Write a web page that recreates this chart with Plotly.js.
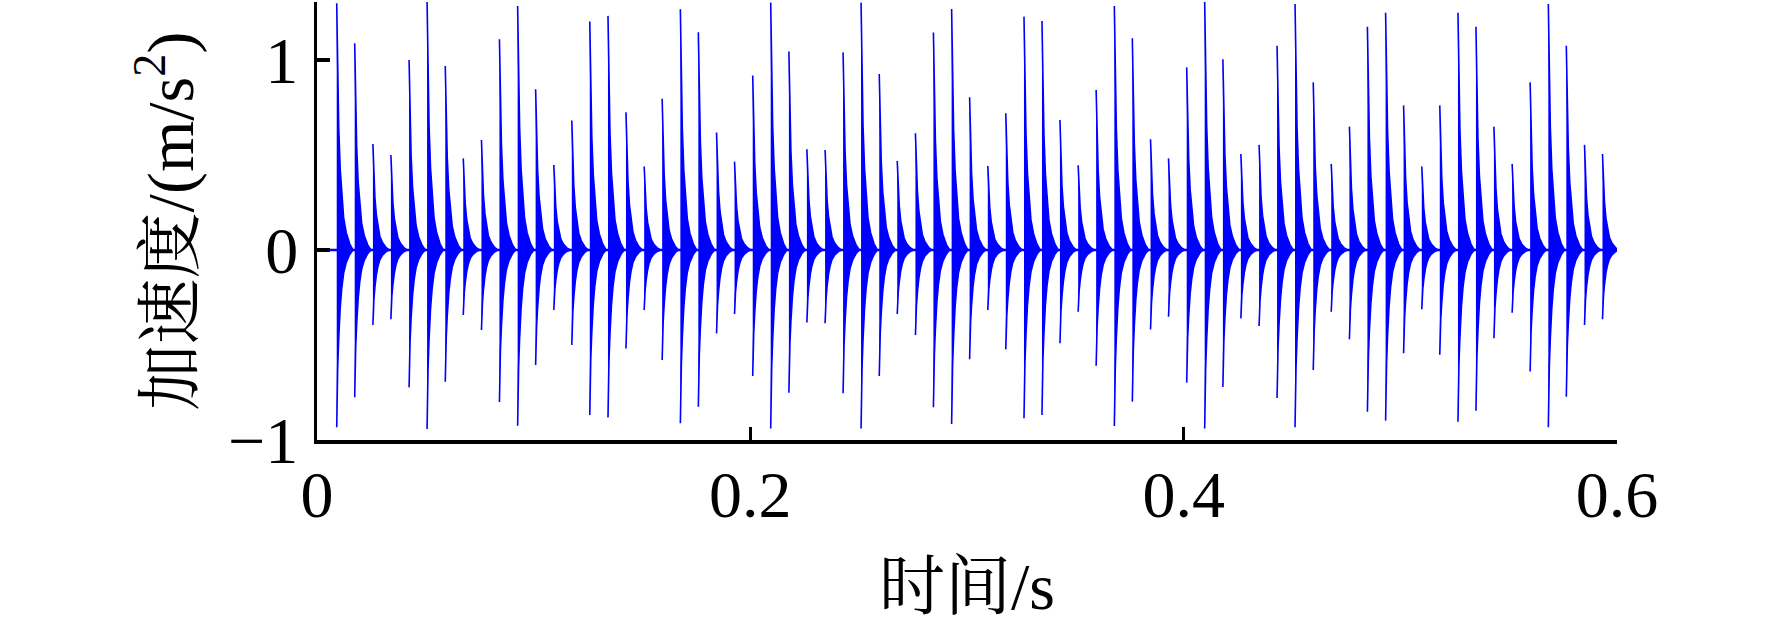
<!DOCTYPE html>
<html><head><meta charset="utf-8">
<script src="https://cdn.plot.ly/plotly-3.0.1.min.js"></script>
<style>html,body{margin:0;padding:0;background:#fff}</style>
</head><body><div id="chart" style="width:1772px;height:623px"></div>
<script>
// Impact times (s)
const spikeTimes = [0.0091,0.0174,0.0258,0.0341,0.0425,0.0508,0.0592,0.0675,0.0759,0.0842,
  0.0926,0.1009,0.1093,0.1176,0.1259,0.1343,0.1426,0.1510,0.1593,0.1677,
  0.1760,0.1844,0.1927,0.2011,0.2094,0.2178,0.2261,0.2345,0.2428,0.2511,
  0.2595,0.2678,0.2762,0.2845,0.2929,0.3012,0.3096,0.3179,0.3263,0.3346,
  0.3429,0.3513,0.3596,0.3680,0.3763,0.3847,0.3930,0.4014,0.4097,0.4181,
  0.4264,0.4348,0.4431,0.4514,0.4598,0.4681,0.4765,0.4848,0.4932,0.5015,
  0.5099,0.5182,0.5266,0.5349,0.5432,0.5516,0.5599,0.5683,0.5766,0.5850,0.5933];
// Positive peak of each impact (m/s^2)
const positivePeaks = [1.298,1.088,0.558,0.500,1.000,1.307,0.968,0.482,0.579,1.109,
  1.284,0.846,0.447,0.681,1.202,1.232,0.725,0.439,0.796,1.267,
  1.146,0.618,0.465,0.918,1.302,1.044,0.530,0.526,1.040,1.302,
  0.926,0.468,0.614,1.144,1.268,0.804,0.442,0.719,1.228,1.205,
  0.684,0.446,0.842,1.284,1.114,0.583,0.482,0.961,1.307,1.004,
  0.505,0.553,1.075,1.295,0.882,0.453,0.649,1.175,1.249,0.761,
  0.439,0.761,1.249,1.175,0.649,0.453,0.882,1.295,1.075,0.553,0.505];
// Negative peak of each impact (m/s^2)
const negativePeaks = [-0.933,-0.775,-0.395,-0.365,-0.723,-0.942,-0.693,-0.342,-0.421,-0.800,
  -0.925,-0.605,-0.316,-0.500,-0.868,-0.881,-0.518,-0.316,-0.579,-0.912,
  -0.825,-0.439,-0.337,-0.663,-0.939,-0.751,-0.382,-0.386,-0.754,-0.939,
  -0.663,-0.337,-0.447,-0.828,-0.916,-0.575,-0.316,-0.523,-0.886,-0.868,
  -0.491,-0.325,-0.609,-0.926,-0.798,-0.418,-0.351,-0.698,-0.939,-0.721,
  -0.360,-0.400,-0.779,-0.933,-0.632,-0.325,-0.470,-0.851,-0.898,-0.544,
  -0.312,-0.551,-0.904,-0.846,-0.465,-0.330,-0.640,-0.933,-0.772,-0.395,-0.365];
// Decay envelope of one impact (time after impact in s, fraction of peak)
const decayOffsets = [0, 0.00046, 0.00092, 0.0016, 0.0023, 0.0032, 0.0044, 0.006, 0.0075];
const decayLevels  = [1, 0.66, 0.50, 0.33, 0.22, 0.13, 0.07, 0.025, 0];
// Record span (s)
const recordSpan = [0, 0.6];
const xTickVals = [0, 0.2, 0.4, 0.6];
const xTickText = ['0', '0.2', '0.4', '0.6'];
const yTickVals = [-1, 0, 1];
const yTickText = ['\u22121', '0', '1'];
const yTopStub = [1.305];

const ex = [], ey = [];
spikeTimes.forEach((t, i) => {
  const p = positivePeaks[i], n = negativePeaks[i];
  for (let k = 0; k < decayOffsets.length; k++) { ex.push(t + decayOffsets[k]); ey.push(p * decayLevels[k]); }
  for (let k = decayOffsets.length - 2; k >= 0; k--) { ex.push(t + decayOffsets[k]); ey.push(n * decayLevels[k]); }
  ex.push(null); ey.push(null);
});

const blue = '#0000ff';
const traces = [
  { x: recordSpan, y: [0, 0], mode: 'lines', line: { color: blue, width: 2.5 }, hoverinfo: 'skip' },
  { x: ex, y: ey, mode: 'lines', fill: 'toself', fillcolor: blue, line: { color: blue, width: 1.6 }, connectgaps: false }
];

const fontFam = '"Liberation Serif", "Times New Roman", "Noto Serif CJK SC", "Noto Sans CJK SC", serif';
const layout = {
  width: 1772, height: 623,
  margin: { l: 317, r: 155, t: 2, b: 183 },
  paper_bgcolor: '#fff', plot_bgcolor: '#fff',
  showlegend: false,
  font: { family: fontFam, size: 66, color: '#000' },
  xaxis: {
    range: [0, 0.6], tickvals: xTickVals, ticktext: xTickText,
    showline: true, linecolor: '#000', linewidth: 3.5, mirror: false,
    ticks: 'inside', ticklen: 13, tickwidth: 3.5, tickcolor: '#000',
    showgrid: false, zeroline: false, ticklabelstandoff: -6,
    tickfont: { family: fontFam, size: 66, color: '#000' },
    title: { text: '时间/s', font: { family: fontFam, size: 66, color: '#000' }, standoff: 38 }
  },
  yaxis: {
    range: [-1, 1.305], tickvals: yTickVals, ticktext: yTickText,
    minor: { tickmode: 'array', tickvals: yTopStub, ticks: 'inside', ticklen: 13, tickwidth: 3.5, tickcolor: '#000', showgrid: false },
    showline: true, linecolor: '#000', linewidth: 3.5, mirror: false,
    ticks: 'inside', ticklen: 13, tickwidth: 3.5, tickcolor: '#000',
    showgrid: false, zeroline: false, ticklabelstandoff: 2,
    tickfont: { family: fontFam, size: 66, color: '#000' },
    title: { text: '加速度/(m/s<sup>2</sup>)', font: { family: fontFam, size: 66, color: '#000' }, standoff: 14 }
  }
};
Plotly.newPlot('chart', traces, layout, { staticPlot: true, displayModeBar: false });
</script></body></html>
